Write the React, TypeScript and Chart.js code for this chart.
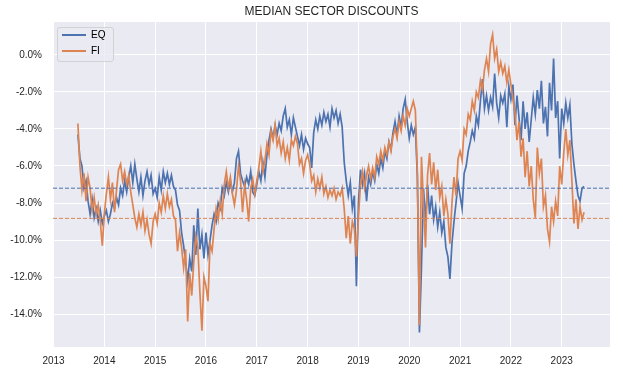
import React, { useEffect, useRef } from "react";
import { Chart, registerables } from "chart.js";

Chart.register(...registerables);

const TITLE = "MEDIAN SECTOR DISCOUNTS";
const SERIES_LABELS = ["EQ", "FI"];

// observation dates: every 0.04 year starting mid-2013
const START_YEAR = 2013.48;
const STEP_YEAR = 0.04;

// EQ median discount (%), one line per calendar year
const EQ = [
  -4.3, -5.6, -6.0, -7.2, -6.8, -7.9, -8.6, -7.8, -8.8, -8.3, -9.0, -8.4, -9.1,
  -8.7, -8.4, -9.0, -8.6, -8.0, -8.3, -7.7, -8.1, -7.2, -7.6, -6.8, -7.4, -6.6, -6.0, -6.9, -5.9, -6.7, -7.4, -6.6, -7.6, -6.8, -6.3, -7.0, -6.5, -7.5,
  -7.2, -7.7, -6.6, -7.3, -6.3, -6.9, -6.4, -7.0, -6.5, -7.1, -7.3, -8.1, -8.4, -9.6, -10.3, -11.2, -12.2, -11.0, -11.7, -9.2, -10.8, -8.3, -10.5, -9.7, -11.0,
  -9.6, -10.8, -10.0, -9.2, -8.6, -9.0, -8.0, -8.3, -7.2, -7.6, -6.9, -7.4, -6.8, -7.4, -6.9, -5.6, -5.2, -6.4, -6.8, -7.1, -6.6, -7.0, -6.3, -7.4, -7.6,
  -7.0, -6.3, -6.8, -5.8, -6.6, -5.4, -4.6, -4.0, -4.5, -3.8, -4.3, -3.7, -4.1, -3.3, -2.9, -3.9, -3.5, -4.3, -3.4, -3.9, -4.4, -4.9, -4.3, -5.1, -4.5,
  -4.8, -5.0, -6.1, -4.2, -3.5, -4.0, -3.3, -3.8, -3.1, -3.6, -3.2, -3.9, -2.9, -3.4, -3.0, -3.7, -3.2, -3.9, -5.8, -6.8, -7.6, -6.9, -8.3, -7.6, -12.5,
  -8.0, -6.2, -7.0, -6.4, -7.9, -6.6, -7.0, -6.3, -6.8, -5.9, -6.4, -5.6, -6.1, -5.2, -5.6, -4.7, -5.1, -4.2, -3.6, -4.3, -3.3, -3.9, -2.9, -2.4, -3.6,
  -4.5, -3.8, -4.3, -3.9, -6.6, -15.0, -11.5, -7.2, -9.0, -7.0, -8.6, -7.6, -8.9, -8.2, -9.3, -8.5, -9.6, -9.0, -10.4, -10.9, -12.1, -10.2, -9.0, -8.0, -6.9,
  -7.6, -8.3, -6.4, -6.0, -5.2, -4.7, -4.1, -4.5, -3.3, -3.8, -2.5, -1.3, -2.9, -2.2, -3.0, -2.3, -2.8, -1.0, -2.6, -3.4, -2.2, -2.6, -2.1, -3.9, -1.7,
  -2.4, -1.6, -3.8, -2.2, -3.4, -4.6, -2.5, -4.0, -3.1, -4.7, -3.5, -2.3, -3.2, -1.9, -2.9, -1.4, -3.7, -2.8, -4.4, -1.5, -3.0, -0.2, -3.4, -2.5, -5.6,
  -2.9, -3.7, -2.6, -3.4, -2.7, -4.8, -5.9, -6.8, -7.6, -7.9, -7.2, -7.1,
];

// FI median discount (%), one line per calendar year
const FI = [
  -3.7, -6.0, -7.3, -6.4, -7.9, -6.6, -7.2, -8.4, -7.7, -8.6, -8.1, -9.0, -10.3,
  -8.6, -7.5, -6.6, -7.8, -6.9, -8.5, -7.3, -6.2, -5.9, -6.8, -6.3, -7.0, -6.5, -7.4, -8.1, -8.8, -9.3, -8.6, -9.2, -8.5, -9.5, -8.9, -9.7, -10.2, -9.0,
  -8.6, -9.1, -8.0, -8.5, -7.6, -8.3, -7.5, -8.2, -7.8, -8.7, -8.9, -10.6, -9.6, -10.4, -11.5, -10.5, -14.4, -11.8, -13.0, -11.2, -9.8, -10.4, -12.8, -14.9, -12.0,
  -12.5, -13.3, -10.2, -10.6, -9.4, -8.3, -8.9, -7.9, -8.6, -7.0, -6.3, -7.2, -6.6, -7.5, -8.1, -7.3, -6.0, -6.8, -8.5, -7.0, -7.8, -9.0, -7.2, -6.7, -7.5,
  -6.8, -6.1, -5.2, -6.3, -5.7, -4.8, -5.4, -4.1, -4.6, -3.8, -4.9, -4.5, -5.3, -4.7, -5.6, -5.0, -5.7, -4.6, -4.9, -4.4, -4.8, -5.9, -5.6, -6.4, -5.7,
  -5.4, -5.9, -6.8, -6.5, -7.4, -6.7, -7.2, -6.6, -7.5, -7.1, -7.7, -7.3, -7.6, -7.2, -7.8, -7.4, -7.6, -7.2, -8.3, -9.9, -8.7, -10.2, -9.0, -9.4, -10.9,
  -8.8, -7.0, -6.3, -7.2, -6.5, -6.0, -6.7, -6.1, -6.6, -5.5, -5.9, -5.2, -5.7, -5.0, -5.4, -4.7, -5.2, -4.4, -4.0, -4.5, -3.6, -4.1, -3.3, -3.8, -2.9,
  -3.3, -2.9, -2.5, -3.0, -6.4, -14.6, -5.5, -8.0, -10.4, -6.5, -5.3, -7.0, -5.8, -7.3, -6.2, -7.7, -7.1, -8.7, -7.8, -8.6, -10.2, -8.0, -6.6, -7.6, -5.6,
  -5.2, -5.7, -4.0, -4.3, -3.2, -3.5, -2.5, -3.0, -2.0, -2.3, -1.4, -1.9, -0.8, -0.2, -0.9, 0.6, 1.1, -0.2, 0.3, -0.9, -0.4, -1.0, -0.6, -1.5, -0.8,
  -1.6, -2.4, -3.1, -4.6, -3.6, -5.5, -4.5, -6.6, -5.2, -7.1, -6.0, -7.8, -8.8, -5.0, -6.4, -5.6, -8.2, -7.6, -9.4, -10.1, -8.2, -9.0, -7.9, -8.7, -6.0,
  -7.0, -5.3, -4.0, -5.4, -4.6, -6.8, -9.1, -7.8, -9.4, -8.2, -8.9, -8.5,
];

// long-run averages drawn as dashed reference lines
const EQ_AVG = -7.2;
const FI_AVG = -8.83;

const X_TICKS = [2013, 2014, 2015, 2016, 2017, 2018, 2019, 2020, 2021, 2022, 2023];
const Y_TICKS = [0, -2, -4, -6, -8, -10, -12, -14];

const X_MIN = 2012.99;
const X_MAX = 2023.95;
const Y_MIN = -15.78;
const Y_MAX = 1.78;

const BLUE = "#4C72B0";
const ORANGE = "#DD8452";
const TEXT = "#262626";
const FONT = "'Liberation Sans', Arial, sans-serif";

const toPoints = (vals: number[]) =>
  vals.map((v, i) => ({ x: Math.round((START_YEAR + i * STEP_YEAR) * 100) / 100, y: v }));

const decorPlugin = {
  id: "decor",
  beforeDraw(chart: any) {
    const { ctx, chartArea } = chart;
    ctx.save();
    ctx.fillStyle = "#ffffff";
    ctx.fillRect(0, 0, chart.width, chart.height);
    ctx.fillStyle = "#EAEAF2";
    ctx.fillRect(chartArea.left, chartArea.top, chartArea.right - chartArea.left, chartArea.bottom - chartArea.top);
    ctx.restore();
  },
  afterLayout(chart: any) {
    const lg = chart.legend;
    if (lg) {
      lg.left = chart.chartArea.left + 3;
      lg.top = chart.chartArea.top + 2;
    }
  },
  afterDraw(chart: any) {
    const { ctx, chartArea } = chart;
    const x = chartArea.left + 4.5;
    const y = chartArea.top + 5.5;
    const w = 56;
    const h = 34;
    ctx.save();
    ctx.beginPath();
    if (ctx.roundRect) ctx.roundRect(x, y, w, h, 2.5);
    else ctx.rect(x, y, w, h);
    ctx.fillStyle = "rgba(234,234,242,0.8)";
    ctx.fill();
    ctx.lineWidth = 1;
    ctx.strokeStyle = "rgba(204,204,204,0.8)";
    ctx.stroke();
    ctx.restore();
    if (chart.legend) chart.legend.draw();
  },
};

export default function App() {
  const ref = useRef<HTMLCanvasElement>(null);

  useEffect(() => {
    const canvas = ref.current;
    if (!canvas) return;
    const chart = new Chart(canvas, {
      type: "line",
      data: {
        datasets: [
          {
            label: SERIES_LABELS[0],
            data: toPoints(EQ),
            borderColor: BLUE,
            backgroundColor: BLUE,
            borderWidth: 1.7,
            pointRadius: 0,
            tension: 0,
            order: 2,
          },
          {
            label: SERIES_LABELS[1],
            data: toPoints(FI),
            borderColor: ORANGE,
            backgroundColor: ORANGE,
            borderWidth: 1.7,
            pointRadius: 0,
            tension: 0,
            order: 1,
          },
          {
            label: "EQ average",
            data: [
              { x: X_MIN, y: EQ_AVG },
              { x: X_MAX, y: EQ_AVG },
            ],
            borderColor: BLUE,
            borderWidth: 1,
            borderDash: [4, 2],
            pointRadius: 0,
            order: 0,
          },
          {
            label: "FI average",
            data: [
              { x: X_MIN, y: FI_AVG },
              { x: X_MAX, y: FI_AVG },
            ],
            borderColor: ORANGE,
            borderWidth: 1,
            borderDash: [4, 2],
            pointRadius: 0,
            order: 0,
          },
        ],
      },
      options: {
        responsive: false,
        animation: false,
        devicePixelRatio: 1,
        events: [],
        layout: { padding: { left: 0, right: 13, top: 0, bottom: 0 } },
        scales: {
          x: {
            type: "linear",
            min: X_MIN,
            max: X_MAX,
            afterBuildTicks: (s: any) => {
              s.ticks = X_TICKS.map((v) => ({ value: v }));
            },
            afterFit: (s: any) => {
              s.height = 27;
            },
            grid: { color: "#ffffff", lineWidth: 1, drawTicks: false },
            border: { display: false },
            ticks: {
              autoSkip: false,
              maxRotation: 0,
              padding: 8,
              color: TEXT,
              font: { family: FONT, size: 10 },
              callback: (v: any) => String(v),
            },
          },
          y: {
            type: "linear",
            min: Y_MIN,
            max: Y_MAX,
            afterBuildTicks: (s: any) => {
              s.ticks = Y_TICKS.map((v) => ({ value: v }));
            },
            afterFit: (s: any) => {
              s.width = 53;
            },
            grid: { color: "#ffffff", lineWidth: 1, drawTicks: false },
            border: { display: false },
            ticks: {
              autoSkip: false,
              padding: 11,
              color: TEXT,
              font: { family: FONT, size: 10 },
              callback: (v: any) => Number(v).toFixed(1) + "%",
            },
          },
        },
        plugins: {
          title: {
            display: true,
            text: TITLE,
            fullSize: false,
            color: TEXT,
            font: { family: FONT, size: 12, weight: "normal" },
            padding: { top: 4, bottom: 3.6 },
          },
          legend: {
            display: true,
            position: "chartArea",
            align: "start",
            labels: {
              boxWidth: 24,
              boxHeight: 2,
              padding: 6,
              color: TEXT,
              font: { family: FONT, size: 10 },
              generateLabels: (c: any) =>
                c.data.datasets.map((ds: any, i: number) => ({
                  text: ds.label,
                  fillStyle: ds.borderColor,
                  strokeStyle: ds.borderColor,
                  lineWidth: 0,
                  hidden: false,
                  datasetIndex: i,
                })),
              filter: (item: any) => item.datasetIndex < 2,
              sort: (a: any, b: any) => a.datasetIndex - b.datasetIndex,
            },
          },
          tooltip: { enabled: false },
        },
      },
      plugins: [decorPlugin],
    } as any);
    return () => chart.destroy();
  }, []);

  return (
    <div style={{ position: "fixed", left: 0, top: 0, width: 623, height: 374, background: "#fff" }}>
      <canvas ref={ref} width={623} height={374} style={{ display: "block", width: 623, height: 374 }} />
    </div>
  );
}
